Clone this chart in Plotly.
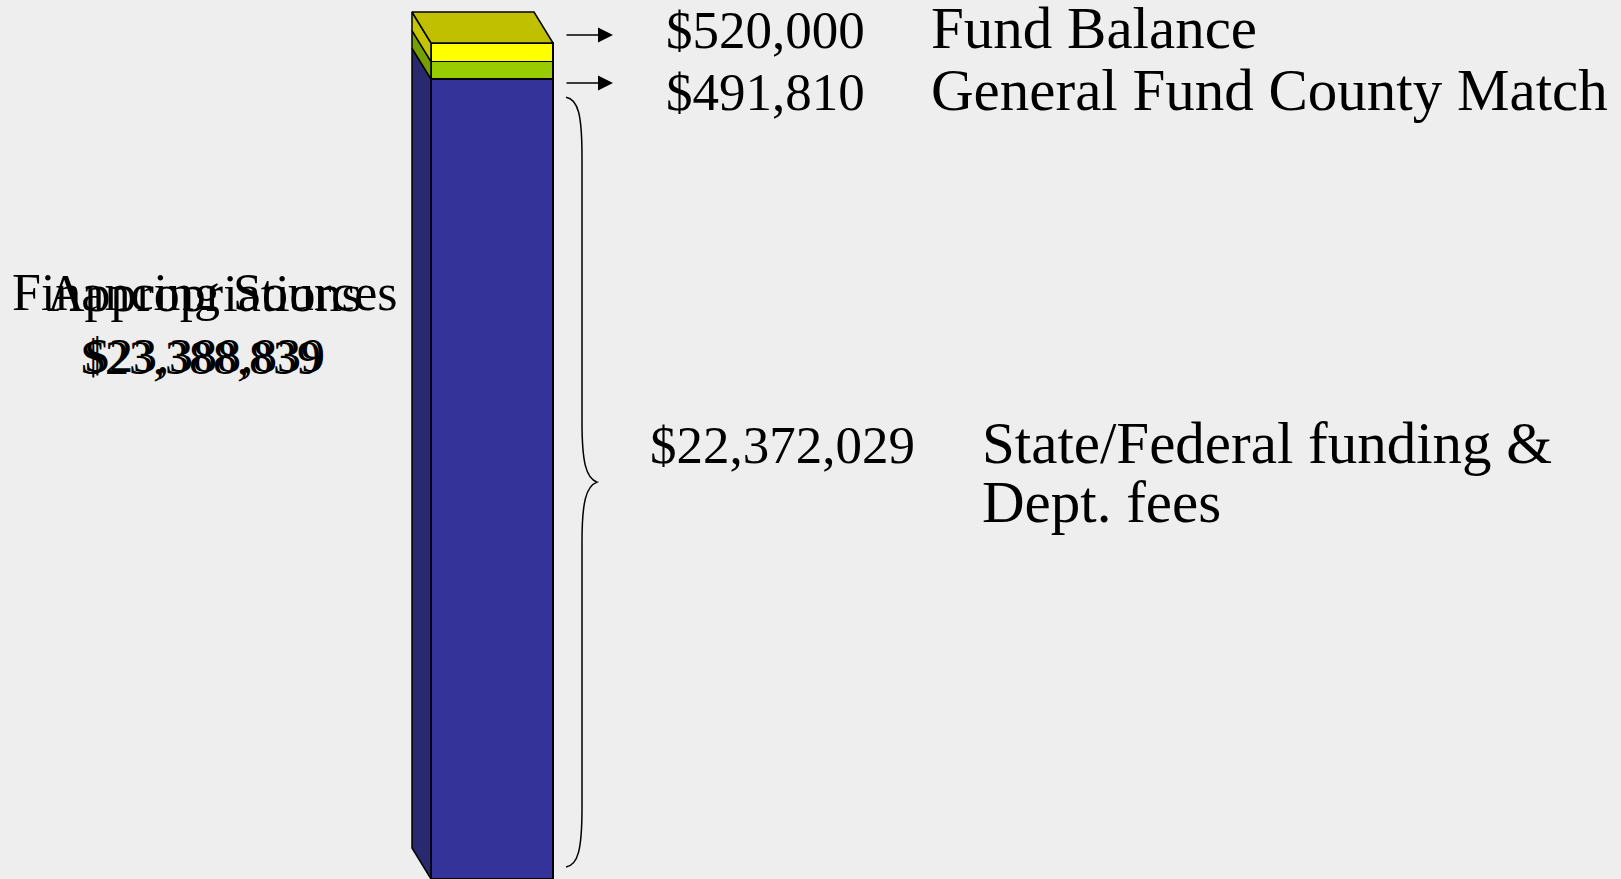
import plotly.graph_objects as go

# ---- data ------------------------------------------------------------
segment_names = ["State/Federal funding & Dept. fees", "General Fund County Match", "Fund Balance"]
segment_values = [22372029, 491810, 520000]          # bottom -> top
segment_labels = ["$22,372,029", "$491,810", "$520,000"]
front_colors = ["#333399", "#99cc00", "#ffff00"]
side_colors = ["#29296f", "#76a000", "#c4c400"]
top_color = "#c0c000"
total_labels = ["Financing Sources", "Appropriations"]
total_amounts = ["$23,388,839", "$23,388,839"]

# ---- geometry --------------------------------------------------------
W, H = 1621, 879
BAR_LEFT_PX, BAR_W_PX, BAR_TOP_PX = 431, 122, 43
DEPTH_X_PX, DEPTH_Y_PX = -19, 31
BG = "#eeeeee"
SERIF = "Liberation Serif, Times New Roman, serif"

total = sum(segment_values)
y_per_px = total / (H - BAR_TOP_PX)
center_px = BAR_LEFT_PX + BAR_W_PX / 2


def xd(px):
    return (px - center_px) / BAR_W_PX


def yd(py):
    return (H - py) * y_per_px


def xp(px):
    return px / W


def yp(py):
    return 1 - py / H


DX = DEPTH_X_PX / BAR_W_PX
DY = DEPTH_Y_PX * y_per_px
XL, XR = -0.5, 0.5

fig = go.Figure()

# front faces: stacked bars
for name, v, c in zip(segment_names, segment_values, front_colors):
    fig.add_trace(go.Bar(
        x=[0], y=[v], width=1, name=name,
        marker=dict(color=c, line=dict(color="black", width=1.5)),
        hoverinfo="skip",
    ))

# left side faces (depth) for every segment
base = 0
for v, c in zip(segment_values, side_colors):
    b, t = base, base + v
    fig.add_trace(go.Scatter(
        x=[XL, XL + DX, XL + DX, XL, XL],
        y=[b, b + DY, t + DY, t, b],
        mode="lines", fill="toself", fillcolor=c,
        line=dict(color="black", width=1.5), hoverinfo="skip",
    ))
    base = t

# top face
fig.add_trace(go.Scatter(
    x=[XL, XR, XR + DX, XL + DX, XL],
    y=[total, total, total + DY, total + DY, total],
    mode="lines", fill="toself", fillcolor=top_color,
    line=dict(color="black", width=1.5), hoverinfo="skip",
))

# curly brace spanning the bottom segment
b_top = segment_values[0] - 18 * y_per_px
b_bot = 12 * y_per_px
b_mid = (b_top + b_bot) / 2
ex, vx, tx = xd(566), xd(582), xd(597)
k = 60 * y_per_px
path = (
    f"M {ex},{b_top} "
    f"C {xd(578)},{b_top - 2 * y_per_px} {vx},{b_top - 17 * y_per_px} {vx},{b_top - k} "
    f"L {vx},{b_mid + k} "
    f"C {vx},{b_mid + 20 * y_per_px} {xd(586)},{b_mid + 4 * y_per_px} {tx},{b_mid} "
    f"C {xd(586)},{b_mid - 4 * y_per_px} {vx},{b_mid - 20 * y_per_px} {vx},{b_mid - k} "
    f"L {vx},{b_bot + k} "
    f"C {vx},{b_bot + 17 * y_per_px} {xd(578)},{b_bot + 2 * y_per_px} {ex},{b_bot}"
)
fig.add_shape(type="path", path=path, xref="x", yref="y",
              line=dict(color="black", width=1.5))

annotations = []

# arrows pointing to the two small segments
for py in (35, 83):
    annotations.append(dict(
        x=xp(613), y=yp(py), xref="paper", yref="paper",
        ax=-48, ay=0, text="", showarrow=True,
        arrowhead=2, arrowsize=2, arrowwidth=1.5, arrowcolor="black",
    ))


def label(text, x_px, baseline_py, size, anchor="left"):
    annotations.append(dict(
        x=xp(x_px), y=yp(baseline_py - 0.3375 * size), xref="paper", yref="paper",
        text=text, showarrow=False, xanchor=anchor, yanchor="middle",
        font=dict(family=SERIF, size=size, color="black"),
    ))


NUM, TXT = 53, 59
label(segment_labels[2], 664, 48, NUM)
label(segment_names[2], 929, 48, TXT)
label(segment_labels[1], 664, 110, NUM)
label(segment_names[1], 929, 110, TXT)
label(segment_labels[0], 648, 463, NUM)
label("State/Federal funding &", 980, 463, TXT)
label("Dept. fees", 980, 522, TXT)

# overlapping totals on the left
HEAD, AMT = 52, 48
label(total_labels[0], 205, 310, HEAD, "center")
label(total_amounts[0], 205.5, 372, AMT, "center")
label(total_labels[1], 204, 311, HEAD, "center")
label(total_amounts[1], 201, 374, AMT, "center")

fig.update_layout(
    width=W, height=H,
    margin=dict(l=0, r=0, t=0, b=0),
    paper_bgcolor=BG, plot_bgcolor=BG,
    barmode="stack", showlegend=False,
    xaxis=dict(range=[xd(0), xd(W)], visible=False, fixedrange=True),
    yaxis=dict(range=[0, yd(0)], visible=False, fixedrange=True),
    annotations=annotations,
)

fig.write_html("out.html", config={"displayModeBar": False})
